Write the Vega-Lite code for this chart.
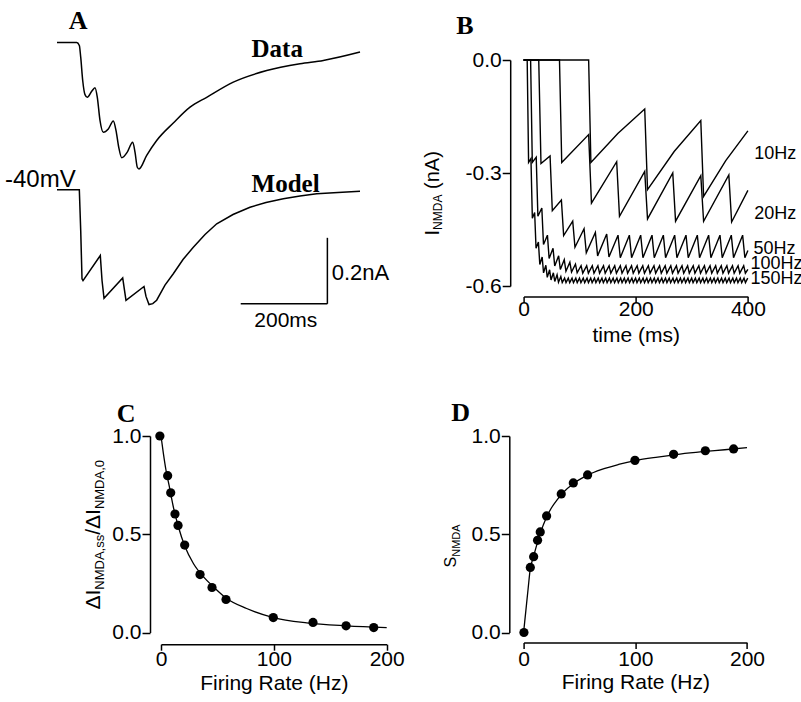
{
"$schema": "https://vega.github.io/schema/vega-lite/v6.json",
"background": "white",
"padding": {"left": 5, "top": 7, "right": 0, "bottom": 0},
"autosize": {"type": "pad"},
"columns": 2,
"align": "none",
"bounds": "flush",
"spacing": {"row": 150, "column": 136.6},
"datasets": {
"Adata": [{"t":0,"i":0},{"t":45.5,"i":0},{"t":51.5,"i":-0.009},{"t":54.7,"i":-0.0445},{"t":59.3,"i":-0.115},{"t":64.6,"i":-0.158},{"t":69.9,"i":-0.166},{"t":80.1,"i":-0.148},{"t":87.7,"i":-0.137},{"t":93,"i":-0.166},{"t":99.2,"i":-0.236},{"t":106.9,"i":-0.272},{"t":118.4,"i":-0.262},{"t":129.9,"i":-0.238},{"t":136.2,"i":-0.267},{"t":142.4,"i":-0.317},{"t":149.3,"i":-0.349},{"t":162.2,"i":-0.332},{"t":174.7,"i":-0.302},{"t":180,"i":-0.332},{"t":185.3,"i":-0.378},{"t":189.2,"i":-0.383},{"t":207,"i":-0.342},{"t":230,"i":-0.297},{"t":268.4,"i":-0.244},{"t":307,"i":-0.196},{"t":345.5,"i":-0.166},{"t":406.9,"i":-0.12},{"t":484,"i":-0.085},{"t":560.8,"i":-0.0645},{"t":614.6,"i":-0.0545},{"t":699.3,"i":-0.029}],
"Amodel": [{"t":0,"i":0},{"t":51.5,"i":0},{"t":54.7,"i":-0.123},{"t":57.7,"i":-0.27},{"t":60,"i":-0.275},{"t":99.9,"i":-0.199},{"t":103.9,"i":-0.275},{"t":108.5,"i":-0.329},{"t":151.6,"i":-0.267},{"t":155.8,"i":-0.305},{"t":159.2,"i":-0.335},{"t":200.8,"i":-0.293},{"t":205.4,"i":-0.323},{"t":212.3,"i":-0.3476},{"t":221,"i":-0.345},{"t":230,"i":-0.3345},{"t":249.2,"i":-0.289},{"t":268.4,"i":-0.2545},{"t":290.8,"i":-0.2112},{"t":314.6,"i":-0.174},{"t":341.6,"i":-0.1355},{"t":368.6,"i":-0.103},{"t":406.2,"i":-0.0748},{"t":445.4,"i":-0.0527},{"t":482.3,"i":-0.0385},{"t":522.3,"i":-0.0273},{"t":560.8,"i":-0.0188},{"t":599.3,"i":-0.0121},{"t":648.5,"i":-0.0082},{"t":699.3,"i":-0.0042}],
"B": [
{"f":"10","t":0,"i":0},{"f":"10","t":116,"i":0},{"f":"10","t":120,"i":-0.272},{"f":"10","t":168,"i":-0.195},{"f":"10","t":216,"i":-0.13},{"f":"10","t":221,"i":-0.344},{"f":"10","t":268.5,"i":-0.243},{"f":"10","t":316,"i":-0.161},{"f":"10","t":321,"i":-0.362},{"f":"10","t":360.5,"i":-0.267},{"f":"10","t":400,"i":-0.188},
{"f":"20","t":0,"i":0},{"f":"20","t":64,"i":0},{"f":"20","t":68,"i":-0.272},{"f":"20","t":116,"i":-0.198},{"f":"20","t":121,"i":-0.38},{"f":"20","t":166,"i":-0.27},{"f":"20","t":171,"i":-0.415},{"f":"20","t":216,"i":-0.296},{"f":"20","t":221,"i":-0.422},{"f":"20","t":266,"i":-0.3},{"f":"20","t":271,"i":-0.428},{"f":"20","t":316,"i":-0.307},{"f":"20","t":321,"i":-0.428},{"f":"20","t":366,"i":-0.305},{"f":"20","t":371,"i":-0.43},{"f":"20","t":400,"i":-0.346},
{"f":"50","t":0,"i":0},{"f":"50","t":27,"i":0},{"f":"50","t":31,"i":-0.275},{"f":"50","t":47.2,"i":-0.255},{"f":"50","t":51.2,"i":-0.4},{"f":"50","t":67.4,"i":-0.372},{"f":"50","t":71.4,"i":-0.466},{"f":"50","t":87.6,"i":-0.428},{"f":"50","t":91.6,"i":-0.497},{"f":"50","t":107.8,"i":-0.448},{"f":"50","t":111.8,"i":-0.512},{"f":"50","t":128,"i":-0.458},{"f":"50","t":132,"i":-0.52},{"f":"50","t":148.2,"i":-0.462},{"f":"50","t":152.2,"i":-0.523},
{"f":"50","t":168.4,"i":-0.465},{"f":"50","t":172.4,"i":-0.525},{"f":"50","t":188.6,"i":-0.465},{"f":"50","t":192.6,"i":-0.525},{"f":"50","t":208.8,"i":-0.465},{"f":"50","t":212.8,"i":-0.525},{"f":"50","t":229,"i":-0.465},{"f":"50","t":233,"i":-0.525},{"f":"50","t":249.2,"i":-0.465},{"f":"50","t":253.2,"i":-0.525},{"f":"50","t":269.4,"i":-0.465},{"f":"50","t":273.4,"i":-0.525},{"f":"50","t":289.6,"i":-0.465},{"f":"50","t":293.6,"i":-0.525},{"f":"50","t":309.8,"i":-0.465},{"f":"50","t":313.8,"i":-0.525},{"f":"50","t":330,"i":-0.465},{"f":"50","t":334,"i":-0.525},{"f":"50","t":350.2,"i":-0.465},{"f":"50","t":354.2,"i":-0.525},{"f":"50","t":370.4,"i":-0.465},{"f":"50","t":374.4,"i":-0.525},{"f":"50","t":390.6,"i":-0.465},{"f":"50","t":394.6,"i":-0.525},{"f":"50","t":400,"i":-0.506},
{"f":"100","t":0,"i":0},{"f":"100","t":12.5,"i":0},{"f":"100","t":15.5,"i":-0.272},{"f":"100","t":22.5,"i":-0.258},{"f":"100","t":25.5,"i":-0.415},{"f":"100","t":32.5,"i":-0.393},{"f":"100","t":35.5,"i":-0.49},{"f":"100","t":42.5,"i":-0.465},{"f":"100","t":45.5,"i":-0.527},{"f":"100","t":52.5,"i":-0.5},{"f":"100","t":55.5,"i":-0.547},{"f":"100","t":62.5,"i":-0.52},{"f":"100","t":65.5,"i":-0.556},{"f":"100","t":72.5,"i":-0.53},{"f":"100","t":75.5,"i":-0.561},{"f":"100","t":82.5,"i":-0.537},{"f":"100","t":85.5,"i":-0.563},{"f":"100","t":92.5,"i":-0.542},{"f":"100","t":95.5,"i":-0.565},
{"f":"100","t":102.5,"i":-0.546},{"f":"100","t":105.5,"i":-0.566},{"f":"100","t":112.5,"i":-0.546},{"f":"100","t":115.5,"i":-0.566},{"f":"100","t":122.5,"i":-0.546},{"f":"100","t":125.5,"i":-0.566},{"f":"100","t":132.5,"i":-0.546},{"f":"100","t":135.5,"i":-0.566},{"f":"100","t":142.5,"i":-0.546},{"f":"100","t":145.5,"i":-0.566},{"f":"100","t":152.5,"i":-0.546},{"f":"100","t":155.5,"i":-0.566},{"f":"100","t":162.5,"i":-0.546},{"f":"100","t":165.5,"i":-0.566},{"f":"100","t":172.5,"i":-0.546},{"f":"100","t":175.5,"i":-0.566},{"f":"100","t":182.5,"i":-0.546},{"f":"100","t":185.5,"i":-0.566},{"f":"100","t":192.5,"i":-0.546},{"f":"100","t":195.5,"i":-0.566},{"f":"100","t":202.5,"i":-0.546},{"f":"100","t":205.5,"i":-0.566},{"f":"100","t":212.5,"i":-0.546},{"f":"100","t":215.5,"i":-0.566},{"f":"100","t":222.5,"i":-0.546},{"f":"100","t":225.5,"i":-0.566},{"f":"100","t":232.5,"i":-0.546},{"f":"100","t":235.5,"i":-0.566},{"f":"100","t":242.5,"i":-0.546},{"f":"100","t":245.5,"i":-0.566},{"f":"100","t":252.5,"i":-0.546},{"f":"100","t":255.5,"i":-0.566},{"f":"100","t":262.5,"i":-0.546},{"f":"100","t":265.5,"i":-0.566},{"f":"100","t":272.5,"i":-0.546},{"f":"100","t":275.5,"i":-0.566},{"f":"100","t":282.5,"i":-0.546},{"f":"100","t":285.5,"i":-0.566},{"f":"100","t":292.5,"i":-0.546},{"f":"100","t":295.5,"i":-0.566},{"f":"100","t":302.5,"i":-0.546},{"f":"100","t":305.5,"i":-0.566},{"f":"100","t":312.5,"i":-0.546},{"f":"100","t":315.5,"i":-0.566},{"f":"100","t":322.5,"i":-0.546},{"f":"100","t":325.5,"i":-0.566},{"f":"100","t":332.5,"i":-0.546},{"f":"100","t":335.5,"i":-0.566},{"f":"100","t":342.5,"i":-0.546},{"f":"100","t":345.5,"i":-0.566},{"f":"100","t":352.5,"i":-0.546},{"f":"100","t":355.5,"i":-0.566},{"f":"100","t":362.5,"i":-0.546},{"f":"100","t":365.5,"i":-0.566},{"f":"100","t":372.5,"i":-0.546},{"f":"100","t":375.5,"i":-0.566},{"f":"100","t":382.5,"i":-0.546},{"f":"100","t":385.5,"i":-0.566},{"f":"100","t":392.5,"i":-0.546},{"f":"100","t":395.5,"i":-0.566},{"f":"100","t":400,"i":-0.556},
{"f":"150","t":0,"i":0},{"f":"150","t":6.4,"i":0},{"f":"150","t":8.9,"i":-0.272},{"f":"150","t":13.1,"i":-0.262},{"f":"150","t":15.6,"i":-0.42},{"f":"150","t":19.7,"i":-0.405},{"f":"150","t":22.2,"i":-0.5},{"f":"150","t":26.4,"i":-0.483},{"f":"150","t":28.9,"i":-0.543},{"f":"150","t":33.1,"i":-0.523},{"f":"150","t":35.6,"i":-0.565},{"f":"150","t":39.7,"i":-0.545},{"f":"150","t":42.2,"i":-0.577},{"f":"150","t":46.4,"i":-0.557},{"f":"150","t":48.9,"i":-0.584},{"f":"150","t":53.1,"i":-0.565},{"f":"150","t":55.6,"i":-0.588},{"f":"150","t":59.7,"i":-0.57},{"f":"150","t":62.2,"i":-0.59},{"f":"150","t":66.4,"i":-0.575},{"f":"150","t":68.9,"i":-0.591},
{"f":"150","t":73.1,"i":-0.579},{"f":"150","t":75.6,"i":-0.591},{"f":"150","t":79.7,"i":-0.579},{"f":"150","t":82.2,"i":-0.591},{"f":"150","t":86.4,"i":-0.579},{"f":"150","t":88.9,"i":-0.591},{"f":"150","t":93.1,"i":-0.579},{"f":"150","t":95.6,"i":-0.591},{"f":"150","t":99.7,"i":-0.579},{"f":"150","t":102.2,"i":-0.591},{"f":"150","t":106.4,"i":-0.579},{"f":"150","t":108.9,"i":-0.591},{"f":"150","t":113.1,"i":-0.579},{"f":"150","t":115.6,"i":-0.591},{"f":"150","t":119.7,"i":-0.579},{"f":"150","t":122.2,"i":-0.591},{"f":"150","t":126.4,"i":-0.579},{"f":"150","t":128.9,"i":-0.591},{"f":"150","t":133.1,"i":-0.579},{"f":"150","t":135.6,"i":-0.591},{"f":"150","t":139.7,"i":-0.579},{"f":"150","t":142.2,"i":-0.591},{"f":"150","t":146.4,"i":-0.579},{"f":"150","t":148.9,"i":-0.591},{"f":"150","t":153.1,"i":-0.579},{"f":"150","t":155.6,"i":-0.591},{"f":"150","t":159.7,"i":-0.579},{"f":"150","t":162.2,"i":-0.591},{"f":"150","t":166.4,"i":-0.579},{"f":"150","t":168.9,"i":-0.591},{"f":"150","t":173.1,"i":-0.579},{"f":"150","t":175.6,"i":-0.591},{"f":"150","t":179.7,"i":-0.579},{"f":"150","t":182.2,"i":-0.591},{"f":"150","t":186.4,"i":-0.579},{"f":"150","t":188.9,"i":-0.591},{"f":"150","t":193.1,"i":-0.579},{"f":"150","t":195.6,"i":-0.591},{"f":"150","t":199.7,"i":-0.579},{"f":"150","t":202.2,"i":-0.591},{"f":"150","t":206.4,"i":-0.579},{"f":"150","t":208.9,"i":-0.591},{"f":"150","t":213.1,"i":-0.579},{"f":"150","t":215.6,"i":-0.591},{"f":"150","t":219.7,"i":-0.579},{"f":"150","t":222.2,"i":-0.591},{"f":"150","t":226.4,"i":-0.579},{"f":"150","t":228.9,"i":-0.591},{"f":"150","t":233.1,"i":-0.579},{"f":"150","t":235.6,"i":-0.591},{"f":"150","t":239.7,"i":-0.579},{"f":"150","t":242.2,"i":-0.591},{"f":"150","t":246.4,"i":-0.579},{"f":"150","t":248.9,"i":-0.591},{"f":"150","t":253.1,"i":-0.579},{"f":"150","t":255.6,"i":-0.591},{"f":"150","t":259.7,"i":-0.579},{"f":"150","t":262.2,"i":-0.591},{"f":"150","t":266.4,"i":-0.579},{"f":"150","t":268.9,"i":-0.591},{"f":"150","t":273.1,"i":-0.579},{"f":"150","t":275.6,"i":-0.591},{"f":"150","t":279.7,"i":-0.579},{"f":"150","t":282.2,"i":-0.591},{"f":"150","t":286.4,"i":-0.579},{"f":"150","t":288.9,"i":-0.591},{"f":"150","t":293.1,"i":-0.579},{"f":"150","t":295.6,"i":-0.591},{"f":"150","t":299.7,"i":-0.579},{"f":"150","t":302.2,"i":-0.591},{"f":"150","t":306.4,"i":-0.579},{"f":"150","t":308.9,"i":-0.591},{"f":"150","t":313.1,"i":-0.579},{"f":"150","t":315.6,"i":-0.591},{"f":"150","t":319.7,"i":-0.579},{"f":"150","t":322.2,"i":-0.591},{"f":"150","t":326.4,"i":-0.579},{"f":"150","t":328.9,"i":-0.591},{"f":"150","t":333.1,"i":-0.579},{"f":"150","t":335.6,"i":-0.591},{"f":"150","t":339.7,"i":-0.579},{"f":"150","t":342.2,"i":-0.591},{"f":"150","t":346.4,"i":-0.579},{"f":"150","t":348.9,"i":-0.591},{"f":"150","t":353.1,"i":-0.579},{"f":"150","t":355.6,"i":-0.591},{"f":"150","t":359.7,"i":-0.579},{"f":"150","t":362.2,"i":-0.591},{"f":"150","t":366.4,"i":-0.579},{"f":"150","t":368.9,"i":-0.591},{"f":"150","t":373.1,"i":-0.579},{"f":"150","t":375.6,"i":-0.591},{"f":"150","t":379.7,"i":-0.579},{"f":"150","t":382.2,"i":-0.591},{"f":"150","t":386.4,"i":-0.579},{"f":"150","t":388.9,"i":-0.591},{"f":"150","t":393.1,"i":-0.579},{"f":"150","t":395.6,"i":-0.591},{"f":"150","t":399.7,"i":-0.579}
],
"Ccurve": [{"x":0,"y":1},{"x":2.1,"y":0.912},{"x":4.4,"y":0.827},{"x":7.4,"y":0.742},{"x":10.9,"y":0.64},{"x":15.4,"y":0.538},{"x":21.3,"y":0.436},{"x":28.7,"y":0.351},{"x":37.5,"y":0.284},{"x":46.4,"y":0.233},{"x":58.2,"y":0.173},{"x":75.9,"y":0.122},{"x":99.6,"y":0.076},{"x":129.1,"y":0.049},{"x":164.5,"y":0.034},{"x":200,"y":0.025}],
"Cpts": [{"x":-1,"y":1},{"x":5.9,"y":0.798},{"x":8.6,"y":0.711},{"x":12.4,"y":0.603},{"x":15.1,"y":0.545},{"x":21,"y":0.445},{"x":34.6,"y":0.295},{"x":45.2,"y":0.229},{"x":57.6,"y":0.168},{"x":99.5,"y":0.076},{"x":134.7,"y":0.051},{"x":164,"y":0.034},{"x":188.5,"y":0.025}],
"Dcurve": [{"x":0,"y":0},{"x":2,"y":0.11},{"x":4,"y":0.22},{"x":6,"y":0.325},{"x":8,"y":0.37},{"x":10,"y":0.41},{"x":12.5,"y":0.46},{"x":15,"y":0.505},{"x":20,"y":0.58},{"x":25,"y":0.635},{"x":30,"y":0.675},{"x":35,"y":0.71},{"x":45,"y":0.76},{"x":57,"y":0.8},{"x":70,"y":0.83},{"x":85,"y":0.855},{"x":100,"y":0.875},{"x":120,"y":0.893},{"x":140,"y":0.908},{"x":160,"y":0.92},{"x":180,"y":0.93},{"x":200,"y":0.941}],
"Dpts": [{"x":0.3,"y":0},{"x":6,"y":0.331},{"x":9,"y":0.386},{"x":12.5,"y":0.469},{"x":14.9,"y":0.512},{"x":20.6,"y":0.593},{"x":33.7,"y":0.705},{"x":44.5,"y":0.761},{"x":57.3,"y":0.802},{"x":99.7,"y":0.876},{"x":134.3,"y":0.907},{"x":162.7,"y":0.925},{"x":188,"y":0.934}]
},
"concat": [
{
"width": 223.1, "height": 226,
"resolve": {"scale": {"y": "independent"}},
"layer": [
 {
  "encoding": {
   "x": {"field": "t", "type": "quantitative", "scale": {"domain": [240, 754.9], "nice": false, "zero": false}, "axis": null},
   "y": {"field": "i", "type": "quantitative", "scale": {"domain": [-0.7378, -0.053], "nice": false, "zero": false}, "axis": null}
  },
  "layer": [
   {"data": {"name": "Adata"}, "mark": {"type": "line", "color": "#000", "strokeWidth": 1.5, "interpolate": "monotone"}},
   {"data": {"values": [{"t": 449, "i": -0.0445, "label": "Data"}]}, "mark": {"type": "text", "font": "Liberation Serif", "fontWeight": "bold", "fontSize": 25, "align": "left", "baseline": "alphabetic", "color": "#000"}, "encoding": {"text": {"field": "label"}}},
   {"data": {"values": [{"t": 48.5, "i": 0.0424, "label": "A"}]}, "mark": {"type": "text", "font": "Liberation Serif", "fontWeight": "bold", "fontSize": 26, "align": "center", "baseline": "alphabetic", "color": "#000"}, "encoding": {"text": {"field": "label"}}}
  ]
 },
 {
  "encoding": {
   "x": {"field": "t", "type": "quantitative", "scale": {"domain": [240, 754.9], "nice": false, "zero": false}, "axis": null},
   "y": {"field": "i", "type": "quantitative", "scale": {"domain": [-0.2915, 0.3933], "nice": false, "zero": false}, "axis": null}
  },
  "layer": [
   {"data": {"name": "Amodel"}, "mark": {"type": "line", "color": "#000", "strokeWidth": 1.5}},
   {"data": {"values": [{"t": 449, "i": -0.0073, "label": "Model"}]}, "mark": {"type": "text", "font": "Liberation Serif", "fontWeight": "bold", "fontSize": 25, "align": "left", "baseline": "alphabetic", "color": "#000"}, "encoding": {"text": {"field": "label"}}},
   {"data": {"values": [{"t": -120, "i": 0.0079, "label": "-40mV"}]}, "mark": {"type": "text", "font": "Liberation Sans", "fontSize": 24, "align": "left", "baseline": "alphabetic", "color": "#000"}, "encoding": {"text": {"field": "label"}}},
   {"data": {"values": [{"t": 634, "i": -0.2748, "label": "0.2nA"}]}, "mark": {"type": "text", "font": "Liberation Sans", "fontSize": 22, "align": "left", "baseline": "alphabetic", "color": "#000"}, "encoding": {"text": {"field": "label"}}},
   {"data": {"values": [{"t": 528, "i": -0.4164, "label": "200ms"}]}, "mark": {"type": "text", "font": "Liberation Sans", "fontSize": 21, "align": "center", "baseline": "alphabetic", "color": "#000"}, "encoding": {"text": {"field": "label"}}},
   {"data": {"values": [{"t": 424, "i": -0.3455, "t2": 624, "i2": -0.3455}, {"t": 624, "i": -0.1455, "t2": 624, "i2": -0.3455}]}, "mark": {"type": "rule", "color": "#000", "strokeWidth": 1.5}, "encoding": {"x2": {"field": "t2"}, "y2": {"field": "i2"}}}
  ]
 }
]
},
{
"width": 224.3, "height": 226,
"encoding": {
 "x": {"field": "t", "type": "quantitative", "scale": {"domain": [0, 400], "nice": false, "zero": false}, "axis": {"values": [0, 200, 400], "title": "time (ms)", "offset": 10.5, "labelPadding": -4, "titlePadding": 5}},
 "y": {"field": "i", "type": "quantitative", "scale": {"domain": [-0.6, 0], "nice": false, "zero": false}, "axis": {"values": [-0.6, -0.3, 0], "format": ".1f", "labelExpr": "replace(datum.label, '\u2212', '-')", "title": null, "offset": 13.4}}
},
"layer": [
 {"data": {"name": "B"}, "mark": {"type": "line", "color": "#000", "strokeWidth": 1.4}, "encoding": {"detail": {"field": "f"}}},
 {"data": {"values": [{"t": 411.5, "i": -0.2623, "label": "10Hz"}, {"t": 411.5, "i": -0.4216, "label": "20Hz"}, {"t": 410, "i": -0.5145, "label": "50Hz"}, {"t": 404.5, "i": -0.5543, "label": "100Hz"}, {"t": 404.5, "i": -0.5941, "label": "150Hz"}]}, "mark": {"type": "text", "font": "Liberation Sans", "fontSize": 18, "align": "left", "baseline": "alphabetic", "color": "#000"}, "encoding": {"text": {"field": "label"}}},
 {"data": {"values": [{"t": -104.7, "i": 0.0696, "label": "B"}]}, "mark": {"type": "text", "font": "Liberation Serif", "fontWeight": "bold", "fontSize": 26, "align": "center", "baseline": "alphabetic", "color": "#000"}, "encoding": {"text": {"field": "label"}}},
 {"data": {"values": [{"t": -151, "i": -0.4659, "label": "I"}, {"t": -151, "i": -0.3424, "label": "(nA)"}]}, "mark": {"type": "text", "font": "Liberation Sans", "fontSize": 20, "angle": 270, "align": "left", "baseline": "alphabetic", "color": "#000"}, "encoding": {"text": {"field": "label"}}},
 {"data": {"values": [{"t": -145.7, "i": -0.451, "label": "NMDA"}]}, "mark": {"type": "text", "font": "Liberation Sans", "fontSize": 12, "angle": 270, "align": "left", "baseline": "alphabetic", "color": "#000"}, "encoding": {"text": {"field": "label"}}}
]
},
{
"width": 225.7, "height": 196.5,
"encoding": {
 "x": {"field": "x", "type": "quantitative", "scale": {"domain": [0, 200], "nice": false, "zero": false}, "axis": {"values": [0, 100, 200], "title": "Firing Rate (Hz)", "offset": 11.7, "labelPadding": -2, "titlePadding": 3}},
 "y": {"field": "y", "type": "quantitative", "scale": {"domain": [0, 1], "nice": false}, "axis": {"values": [0, 0.5, 1], "format": ".1f", "title": null, "offset": 11}}
},
"layer": [
 {"data": {"name": "Ccurve"}, "mark": {"type": "line", "color": "#000", "strokeWidth": 1.3, "interpolate": "monotone"}},
 {"data": {"name": "Cpts"}, "mark": {"type": "point", "filled": true, "color": "#000", "opacity": 1, "size": 85}},
 {"data": {"values": [{"x": -31, "y": 1.07, "label": "C"}]}, "mark": {"type": "text", "font": "Liberation Serif", "fontWeight": "bold", "fontSize": 26, "align": "center", "baseline": "alphabetic", "color": "#000"}, "encoding": {"text": {"field": "label"}}},
 {"data": {"values": [{"x": -54.05, "y": 0.117, "label": "ΔI"}, {"x": -54.05, "y": 0.4972, "label": "/ΔI"}]}, "mark": {"type": "text", "font": "Liberation Sans", "fontSize": 21, "angle": 270, "align": "left", "baseline": "alphabetic", "color": "#000"}, "encoding": {"text": {"field": "label"}}},
 {"data": {"values": [{"x": -50.95, "y": 0.2178, "label": "NMDA,ss"}, {"x": -50.95, "y": 0.628, "label": "NMDA,0"}]}, "mark": {"type": "text", "font": "Liberation Sans", "fontSize": 13, "angle": 270, "align": "left", "baseline": "alphabetic", "color": "#000"}, "encoding": {"text": {"field": "label"}}}
]
},
{
"width": 223.4, "height": 196.5,
"encoding": {
 "x": {"field": "x", "type": "quantitative", "scale": {"domain": [0, 200], "nice": false, "zero": false}, "axis": {"values": [0, 100, 200], "title": "Firing Rate (Hz)", "offset": 10, "labelPadding": 0, "titlePadding": 2}},
 "y": {"field": "y", "type": "quantitative", "scale": {"domain": [0, 1], "nice": false}, "axis": {"values": [0, 0.5, 1], "format": ".1f", "title": null, "offset": 14.3}}
},
"layer": [
 {"data": {"name": "Dcurve"}, "mark": {"type": "line", "color": "#000", "strokeWidth": 1.3, "interpolate": "monotone"}},
 {"data": {"name": "Dpts"}, "mark": {"type": "point", "filled": true, "color": "#000", "opacity": 1, "size": 85}},
 {"data": {"values": [{"x": -56.4, "y": 1.075, "label": "D"}]}, "mark": {"type": "text", "font": "Liberation Serif", "fontWeight": "bold", "fontSize": 26, "align": "center", "baseline": "alphabetic", "color": "#000"}, "encoding": {"text": {"field": "label"}}},
 {"data": {"values": [{"x": -60.25, "y": 0.3308, "label": "S"}]}, "mark": {"type": "text", "font": "Liberation Sans", "fontSize": 16, "angle": 270, "align": "left", "baseline": "alphabetic", "color": "#000"}, "encoding": {"text": {"field": "label"}}},
 {"data": {"values": [{"x": -56.7, "y": 0.3852, "label": "NMDA"}]}, "mark": {"type": "text", "font": "Liberation Sans", "fontSize": 11, "angle": 270, "align": "left", "baseline": "alphabetic", "color": "#000"}, "encoding": {"text": {"field": "label"}}}
]
}
],
"config": {
 "view": {"stroke": null},
 "axis": {"grid": false, "domainColor": "#000", "domainWidth": 1.5, "tickColor": "#000", "tickWidth": 1.5, "tickSize": 8, "labelColor": "#000", "labelFont": "Liberation Sans", "labelFontSize": 21, "labelPadding": 1, "titleColor": "#000", "titleFont": "Liberation Sans", "titleFontSize": 21, "titleFontWeight": "normal", "labelFlush": false, "labelOverlap": false, "labelBound": false},
 "axisX": {"tickSize": 6}
}
}
